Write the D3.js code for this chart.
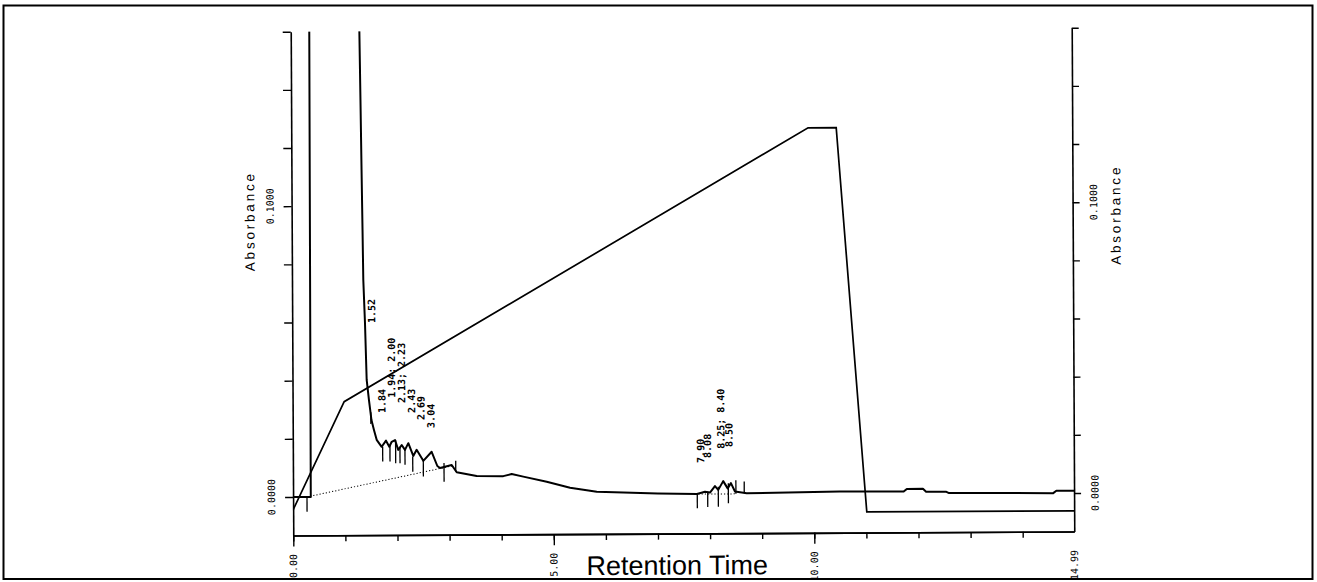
<!DOCTYPE html>
<html>
<head>
<meta charset="utf-8">
<script src="https://cdn.jsdelivr.net/npm/d3@7"></script>
<style>
  html, body { margin: 0; padding: 0; background: #fff; }
  svg { display: block; }
</style>
</head>
<body>
<svg id="chart" width="1317" height="582"></svg>
<script>
// ---------- data ----------
const chromTime = [0, 0.30, 0.34, 0.37, 1.30, 1.317, 1.332, 1.346, 1.359, 1.369, 1.397, 1.424, 1.466, 1.512, 1.559, 1.61, 1.705, 1.789, 1.852, 1.898, 1.962, 2.023, 2.09, 2.152, 2.217, 2.311, 2.376, 2.503, 2.664, 2.772, 2.823, 3.048, 3.143, 3.526, 4.036, 4.198, 4.42, 4.87, 5.317, 5.829, 6.34, 7.0, 7.752, 7.906, 8.002, 8.098, 8.161, 8.257, 8.342, 8.405, 8.482, 8.707, 9.5, 10.49, 11.72, 11.78, 12.09, 12.15, 12.53, 12.59, 14.59, 14.65, 14.99];
const chromAbs = [0, 0, 0, 0.30, 0.30, 0.1605, 0.1364, 0.1123, 0.0917, 0.0745, 0.0597, 0.0401, 0.0332, 0.0263, 0.0229, 0.0195, 0.0171, 0.0192, 0.0171, 0.0188, 0.0194, 0.016, 0.0177, 0.016, 0.0183, 0.0139, 0.016, 0.0122, 0.0153, 0.0104, 0.0097, 0.0107, 0.0082, 0.0069, 0.0068, 0.0075, 0.0066, 0.0048, 0.0027, 0.0013, 0.001, 0.0006, 0.0003, 0.0011, 0.0008, 0.003, 0.0017, 0.0047, 0.0022, 0.004, 0.0011, 0.0005, 0.0007, 0.0009, 0.0008, 0.0017, 0.0017, 0.0007, 0.0007, 0.0002, 0.0, 0.0008, 0.0008];

// gradient program (% B)
const gradTime = [0, 0.99, 9.92, 10.46, 11.01, 14.99];
const gradPct  = [5.1, 26.5, 80.4, 80.4, 4.1, 4.1];

// integration baselines (dotted)
const baseSeg1Time = [0.267, 3.054];
const baseSeg1Abs  = [0.0, 0.0104];
const baseSeg2Time = [7.78, 8.50];
const baseSeg2Abs  = [0.0003, 0.0003];

// integration markers
const markerTime   = [0.267, 1.50, 1.724, 1.864, 1.973, 2.056, 2.152, 2.30, 2.503, 2.90, 3.125, 7.758, 7.958, 8.162, 8.355, 8.50, 8.66];
const markerTop    = [0.0, 0.029, 0.0171, 0.0177, 0.0194, 0.0171, 0.0165, 0.0137, 0.0125, 0.0114, 0.0122, 0.0003, 0.0011, 0.0028, 0.004, 0.005, 0.0045];
const markerBottom = [-0.0051, 0.025, 0.012, 0.012, 0.0114, 0.0114, 0.0109, 0.0085, 0.0068, 0.005, 0.0084, -0.0046, -0.0042, -0.0041, -0.0029, 0.0003, 0.0005];

// peak labels
const peakLabelText = ["1.52", "1.84", "1.94; 2.00", "2.13; 2.23", "2.43", "2.69", "3.04", "7.90", "8.08", "8.25; 8.40", "8.50"];
const peakLabelTime = [1.526, 1.715, 1.902, 2.094, 2.284, 2.463, 2.655, 7.827, 7.958, 8.217, 8.372];
const peakLabelAbs  = [0.0597, 0.0287, 0.0339, 0.0321, 0.0287, 0.0262, 0.0235, 0.011, 0.0127, 0.0158, 0.0164];

// axes
const xMinorTicks = d3.range(0, 15, 1);
const xMajorTicks = [0, 5, 10, 14.99];
const xTickLabels = ["0.00", "5.00", "10.00", "14.99"];
const yTicks = [0, 0.02, 0.04, 0.06, 0.08, 0.10, 0.12, 0.14, 0.16];
const yLabelValues = [0, 0.1];
const yTickLabels = ["0.0000", "0.1000"];

// ---------- drawing ----------
const svg = d3.select("#chart");
const W = 1317, H = 582;
svg.append("rect").attr("width", W).attr("height", H).attr("fill", "#fff");

const x = d3.scaleLinear().domain([0, 14.99]).range([292, 1073]);
const y = d3.scaleLinear().domain([-0.01324, 0.16]).range([533.5, 29.7]);
const g = d3.scaleLinear().domain([0, 100]).range([533.5, 29.7]);

const defs = svg.append("defs");
defs.append("clipPath").attr("id", "frameClip")
  .append("rect").attr("x", 4).attr("y", 6).attr("width", 1308).attr("height", 572);
defs.append("clipPath").attr("id", "plotClip")
  .append("rect").attr("x", x(0)).attr("y", y(0.16))
  .attr("width", x(14.99) - x(0)).attr("height", y(-0.01324) - y(0.16));

const outer = svg.append("g").attr("clip-path", "url(#frameClip)");
const root = outer.append("g").attr("transform", "rotate(-0.29, 683, 283)");

const axisStyle = sel => {
  sel.selectAll("path").attr("stroke", "#000").attr("stroke-width", 1.6);
  sel.selectAll("line").attr("stroke", "#000").attr("stroke-width", 1.4);
};

// left axis
root.append("g").attr("transform", `translate(${x(0)},0)`)
  .call(d3.axisLeft(y).tickValues(yTicks).tickSize(8).tickSizeOuter(0).tickFormat(""))
  .call(axisStyle);
// right axis
root.append("g").attr("transform", `translate(${x(14.99)},0)`)
  .call(d3.axisRight(y).tickValues(yTicks).tickSize(7).tickSizeOuter(0).tickFormat(""))
  .call(axisStyle);
// bottom axis (minor)
root.append("g").attr("transform", `translate(0,${y(-0.01324)})`)
  .call(d3.axisBottom(x).tickValues(xMinorTicks).tickSize(6).tickSizeOuter(0).tickFormat(""))
  .call(axisStyle);
// bottom axis major ticks
root.append("g").attr("transform", `translate(0,${y(-0.01324)})`)
  .call(d3.axisBottom(x).tickValues(xMajorTicks.slice(0, 3)).tickSize(11).tickSizeOuter(0).tickFormat(""))
  .call(axisStyle);

const mono = "'DejaVu Sans Mono', 'Liberation Mono', monospace";

// x tick labels (rotated)
root.append("g").selectAll("text").data(xMajorTicks).join("text")
  .attr("transform", d => `translate(${x(d)},552) rotate(-90)`)
  .attr("text-anchor", "end").attr("dy", "0.35em")
  .attr("font-family", mono).attr("font-size", 10)
  .text((d, i) => xTickLabels[i]);

// y tick labels
root.append("g").selectAll("text").data(yLabelValues).join("text")
  .attr("transform", d => `translate(${x(0) - 21.5},${y(d)}) rotate(-90)`)
  .attr("text-anchor", "middle").attr("dy", "0.35em")
  .attr("font-family", mono).attr("font-size", 10)
  .text((d, i) => yTickLabels[i]);
root.append("g").selectAll("text").data(yLabelValues).join("text")
  .attr("transform", d => `translate(${x(14.99) + 21},${y(d)}) rotate(-90)`)
  .attr("text-anchor", "middle").attr("dy", "0.35em")
  .attr("font-family", mono).attr("font-size", 10)
  .text((d, i) => yTickLabels[i]);

// axis titles
const sans = "'Liberation Sans', Arial, sans-serif";
root.append("text")
  .attr("transform", `translate(${x(0) - 42},219) rotate(-90)`)
  .attr("text-anchor", "middle").attr("dy", "0.35em")
  .attr("font-family", sans).attr("font-size", 13.5).attr("letter-spacing", 2.8)
  .text("Absorbance");
root.append("text")
  .attr("transform", `translate(${x(14.99) + 43},217) rotate(-90)`)
  .attr("text-anchor", "middle").attr("dy", "0.35em")
  .attr("font-family", sans).attr("font-size", 13.5).attr("letter-spacing", 2.8)
  .text("Absorbance");
root.append("text")
  .attr("x", 585).attr("y", 574.5)
  .attr("font-family", sans).attr("font-size", 27)
  .text("Retention Time");

// plot content
const plot = root.append("g").attr("clip-path", "url(#plotClip)");

// gradient
const gradData = gradTime.map((t, i) => [t, gradPct[i]]);
plot.append("path").datum(gradData)
  .attr("d", d3.line().x(d => x(d[0])).y(d => g(d[1])))
  .attr("fill", "none").attr("stroke", "#000").attr("stroke-width", 1.7);

// dotted integration baselines
[[baseSeg1Time, baseSeg1Abs], [baseSeg2Time, baseSeg2Abs]].forEach(([ts, as]) => {
  plot.append("path").datum(ts.map((t, i) => [t, as[i]]))
    .attr("d", d3.line().x(d => x(d[0])).y(d => y(d[1])))
    .attr("fill", "none").attr("stroke", "#000").attr("stroke-width", 1)
    .attr("stroke-dasharray", "1.2,2");
});

// chromatogram
const chromData = chromTime.map((t, i) => [t, chromAbs[i]]);
plot.append("path").datum(chromData)
  .attr("d", d3.line().x(d => x(d[0])).y(d => y(d[1])))
  .attr("fill", "none").attr("stroke", "#000").attr("stroke-width", 2)
  .attr("stroke-linejoin", "round");

// integration markers
plot.append("g").selectAll("line").data(markerTime).join("line")
  .attr("x1", d => x(d)).attr("x2", d => x(d))
  .attr("y1", (d, i) => y(markerTop[i])).attr("y2", (d, i) => y(markerBottom[i]))
  .attr("stroke", "#000").attr("stroke-width", 1.3);

// peak labels
root.append("g").selectAll("text").data(peakLabelText).join("text")
  .attr("transform", (d, i) => `translate(${x(peakLabelTime[i])},${y(peakLabelAbs[i])}) rotate(-90)`)
  .attr("text-anchor", "start").attr("dy", "0.35em")
  .attr("font-family", mono).attr("font-size", 10).attr("font-weight", "bold")
  .text(d => d);

// outer frame
svg.append("rect").attr("x", 3.5).attr("y", 5.5).attr("width", 1309).attr("height", 573.5)
  .attr("fill", "none").attr("stroke", "#000").attr("stroke-width", 2);
</script>
</body>
</html>
